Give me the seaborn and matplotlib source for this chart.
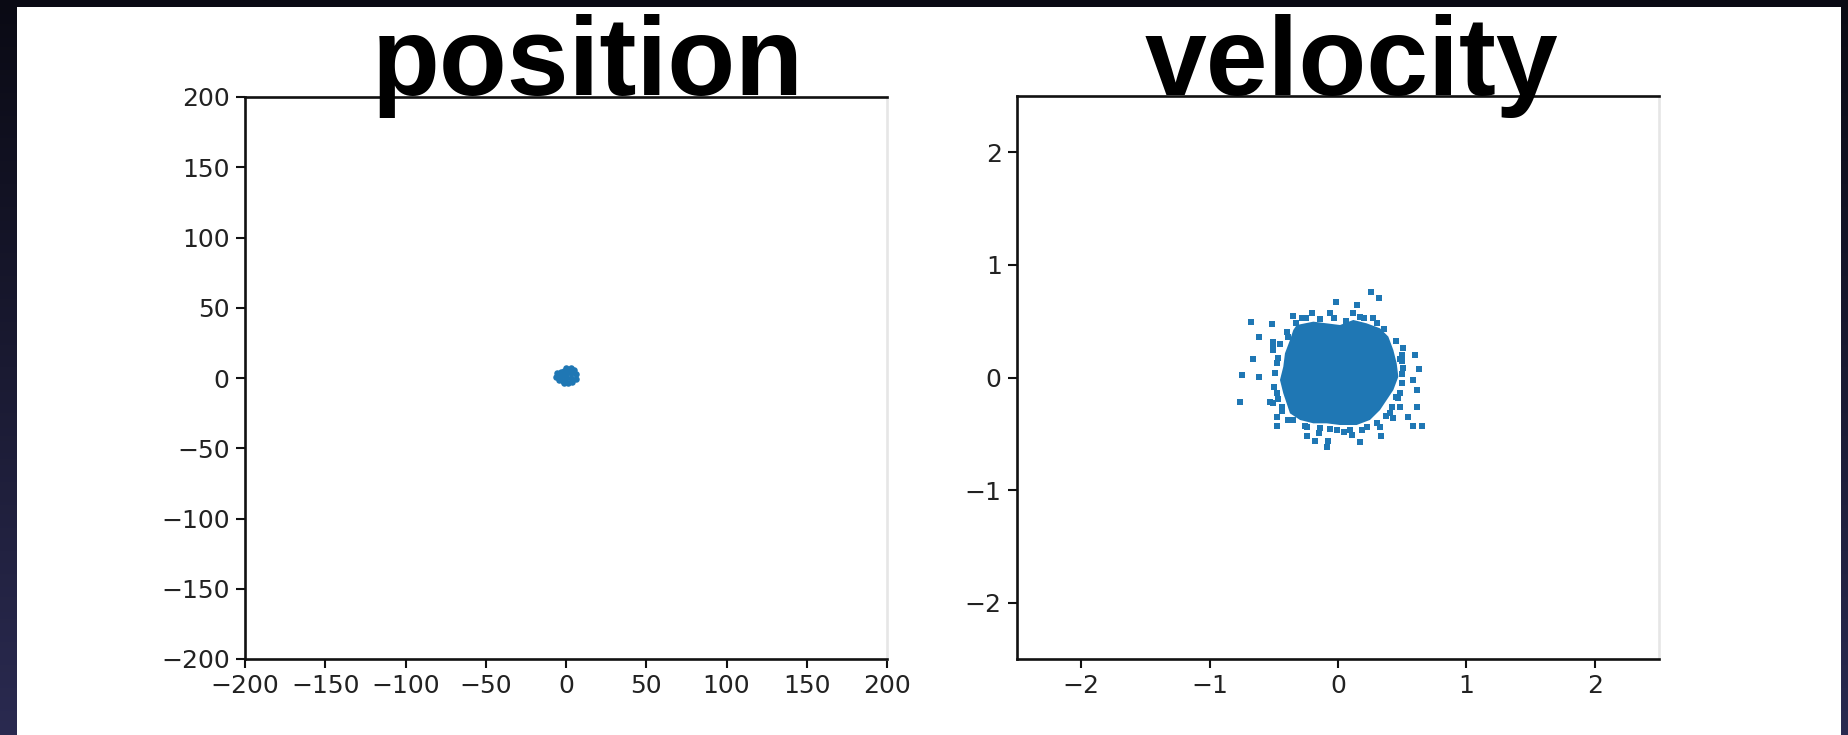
import numpy as np
import matplotlib
matplotlib.use("Agg")
import matplotlib.pyplot as plt
from matplotlib import font_manager
from matplotlib.patches import Rectangle
import seaborn as sns

# ---- data -------------------------------------------------------------
# particle positions (small cluster around the origin)
pos_x = [0.0, 3.0, 5.0, -5.5, -3.0, -6.0, -3.0, 0.0, 3.0, 6.0, 0.0, 3.0, 6.0,
         -4.5, -2.0, 1.0, 4.0, -1.0, -1.5, 1.5]
pos_y = [7.0, 7.2, 5.5, 3.5, 4.0, 1.0, 1.5, 3.0, 3.5, 2.5, 0.0, 0.0, -0.5,
         -1.5, -2.0, -3.5, -2.5, -3.8, 5.0, 5.0]

# particle velocities: scattered points around the dense core
vel_x = [0.255, 0.319, -0.016, 0.145, -0.680, -0.514, -0.348, -0.205, -0.618,
         -0.660, -0.745, -0.618, -0.766, 0.600, 0.628, 0.587, 0.613, 0.613,
         0.587, 0.652, 0.548, 0.504, 0.335, 0.171, -0.088, -0.179, -0.244,
         -0.473, -0.473, -0.387, -0.530, -0.504, -0.504, -0.387, 0.483, 0.452,
         0.107, -0.076, 0.483,
         -0.504, -0.478, -0.491, -0.478, -0.504, -0.439, 0.496, 0.496, 0.483,
         0.405, 0.431, -0.283, -0.062, 0.119, 0.171, 0.275, -0.244, -0.140,
         -0.010, 0.094, 0.223, 0.327,
         -0.25, -0.14, -0.03, 0.06, 0.20, 0.30, 0.36,
         0.45, 0.50, 0.51, 0.50, 0.47, 0.42, 0.37, 0.30,
         0.19, 0.05, -0.06, -0.15, -0.26, -0.35,
         -0.44, -0.47, -0.50, -0.49, -0.47, -0.45, -0.40, -0.33]
vel_y = [0.757, 0.709, 0.668, 0.644, 0.496, 0.475, 0.546, 0.570, 0.357,
         0.164, 0.022, 0.002, -0.215, 0.200, 0.073, -0.022, -0.111, -0.259,
         -0.428, -0.428, -0.354, 0.259, -0.520, -0.570, -0.620, -0.564, -0.517,
         -0.428, -0.348, -0.377, -0.215, 0.244, 0.318, 0.357, -0.259, -0.170,
         -0.515, -0.563, 0.164,
         0.270, 0.126, 0.037, -0.141, -0.229, -0.259, 0.150, 0.030, -0.140,
         -0.318, -0.362, 0.525, 0.570, 0.570, 0.540, 0.525, -0.436, -0.451,
         -0.466, -0.466, -0.436, -0.436,
         0.53, 0.52, 0.53, 0.50, 0.53, 0.48, 0.43,
         0.32, 0.20, 0.08, -0.05, -0.18, -0.26, -0.34, -0.40,
         -0.47, -0.48, -0.46, -0.49, -0.43, -0.38,
         -0.30, -0.19, -0.08, 0.04, 0.17, 0.30, 0.40, 0.48]

# outline of the solid velocity core
core_x = [-0.322, -0.192, -0.088, 0.016, 0.119, 0.223, 0.327, 0.392, 0.431,
          0.457, 0.470, 0.431, 0.379, 0.327, 0.249, 0.145, 0.016, -0.088,
          -0.192, -0.296, -0.374, -0.400, -0.426, -0.452, -0.426, -0.413,
          -0.374, -0.348]
core_y = [0.466, 0.496, 0.481, 0.466, 0.511, 0.481, 0.437, 0.363, 0.244,
          0.126, 0.007, -0.111, -0.200, -0.289, -0.377, -0.422, -0.422, -0.407,
          -0.407, -0.377, -0.318, -0.229, -0.141, -0.022, 0.096, 0.215,
          0.333, 0.422]

pos_ticks = [-200, -150, -100, -50, 0, 50, 100, 150, 200]
vel_ticks = [-2, -1, 0, 1, 2]
titles = ["position", "velocity"]

# ---- style ------------------------------------------------------------
sns.set_style("ticks")
plt.rcParams["font.family"] = ["DejaVu Sans"]
blue = "#1f77b4"


def pick_font(names):
    for n in names:
        try:
            font_manager.findfont(font_manager.FontProperties(family=n, weight="bold"),
                                  fallback_to_default=False)
            return n
        except Exception:
            continue
    return "DejaVu Sans"


title_font = pick_font(["Liberation Sans Narrow", "Liberation Sans"])
title_size = 95 if title_font == "Liberation Sans Narrow" else 80

W, H = 1848, 735
fig = plt.figure(figsize=(W / 100, H / 100), dpi=100)

# dark slide background with a white content panel
bg = fig.add_axes([0, 0, 1, 1], zorder=-10)
grad = np.linspace(0, 1, 256)[:, None]
top_c = np.array([10, 10, 20]) / 255
bot_c = np.array([42, 42, 80]) / 255
img = top_c[None, None, :] * (1 - grad[..., None]) + bot_c[None, None, :] * grad[..., None]
img = np.repeat(img, 4, axis=1)
bg.imshow(img, aspect="auto", extent=[0, 1, 0, 1], origin="upper")
bg.add_patch(Rectangle((17 / W, 0), (1841 - 17) / W, (H - 7) / H,
                       facecolor="white", edgecolor="none"))
bg.set_xlim(0, 1)
bg.set_ylim(0, 1)
bg.axis("off")

ax1 = fig.add_axes([245 / W, 76 / H, 642 / W, 562 / H])
ax2 = fig.add_axes([1017 / W, 76 / H, 642 / W, 563 / H])

sns.scatterplot(x=pos_x, y=pos_y, ax=ax1, color=blue, marker="o", s=22,
                linewidth=0)
ax2.fill(core_x, core_y, color=blue, linewidth=0)
sns.scatterplot(x=vel_x, y=vel_y, ax=ax2, color=blue, marker="s", s=17,
                linewidth=0)

ax1.set_xlim(-200, 200)
ax1.set_ylim(-200, 200)
ax1.set_xticks(pos_ticks)
ax1.set_yticks(pos_ticks)
ax2.set_xlim(-2.5, 2.5)
ax2.set_ylim(-2.5, 2.5)
ax2.set_xticks(vel_ticks)
ax2.set_yticks(vel_ticks)

for ax in (ax1, ax2):
    ax.set_facecolor("white")
    for side in ("left", "bottom", "top"):
        ax.spines[side].set_color("#111111")
        ax.spines[side].set_linewidth(1.9)
    ax.spines["right"].set_color("#e6e6e6")
    ax.spines["right"].set_linewidth(1.9)
    ax.tick_params(axis="both", length=6.5, width=1.5, pad=4.5,
                   labelsize=18, colors="#111111", labelcolor="#222222")

# slide headings
fig.text(587.5 / W, 640 / H, titles[0], ha="center", va="baseline",
         fontsize=title_size, fontweight="bold", family=title_font, color="black")
fig.text(1351 / W, 640 / H, titles[1], ha="center", va="baseline",
         fontsize=title_size, fontweight="bold", family=title_font, color="black")

fig.savefig("out.png", dpi=100)
